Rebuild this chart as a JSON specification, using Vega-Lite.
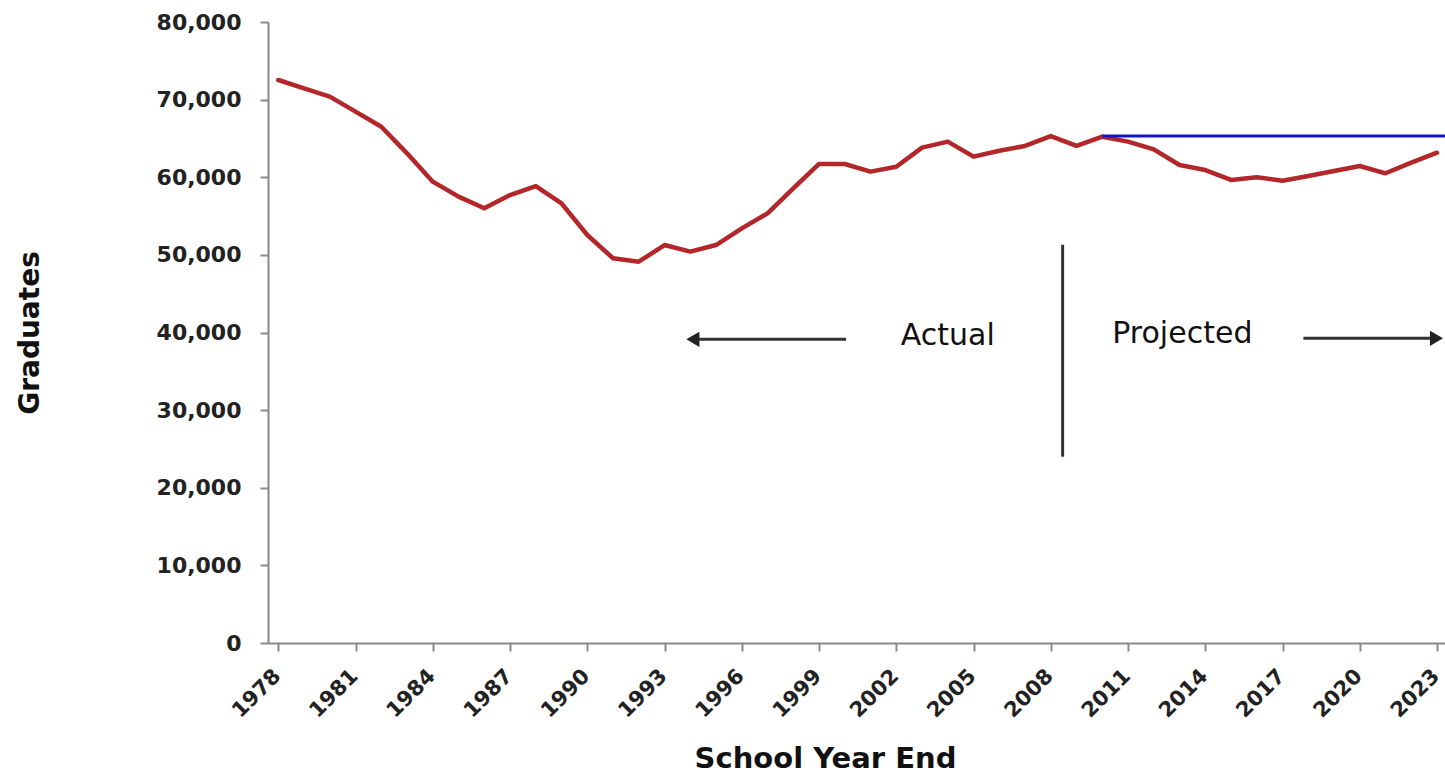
{
  "$schema": "https://vega.github.io/schema/vega-lite/v6.json",
  "width": 1177,
  "height": 621,
  "autosize": {"type": "none"},
  "padding": {"left": 268, "top": 22, "right": 0, "bottom": 131},
  "background": "white",
  "config": {
    "view": {"stroke": null},
    "font": "DejaVu Sans",
    "axis": {
      "labelFont": "DejaVu Sans",
      "titleFont": "DejaVu Sans",
      "domainColor": "#8a8a8a",
      "domainWidth": 2,
      "tickColor": "#8a8a8a",
      "tickWidth": 2,
      "tickSize": 8,
      "labelColor": "#222222",
      "titleColor": "#111111",
      "grid": false
    }
  },
  "datasets": {
    "grads": [
      {"year": 1978, "value": 72530},
      {"year": 1979, "value": 71450},
      {"year": 1980, "value": 70380},
      {"year": 1981, "value": 68450},
      {"year": 1982, "value": 66510},
      {"year": 1983, "value": 63080},
      {"year": 1984, "value": 59430},
      {"year": 1985, "value": 57500},
      {"year": 1986, "value": 56000},
      {"year": 1987, "value": 57710},
      {"year": 1988, "value": 58870},
      {"year": 1989, "value": 56640},
      {"year": 1990, "value": 52560},
      {"year": 1991, "value": 49560},
      {"year": 1992, "value": 49120},
      {"year": 1993, "value": 51270},
      {"year": 1994, "value": 50410},
      {"year": 1995, "value": 51270},
      {"year": 1996, "value": 53420},
      {"year": 1997, "value": 55350},
      {"year": 1998, "value": 58570},
      {"year": 1999, "value": 61710},
      {"year": 2000, "value": 61710},
      {"year": 2001, "value": 60720},
      {"year": 2002, "value": 61360},
      {"year": 2003, "value": 63810},
      {"year": 2004, "value": 64590},
      {"year": 2005, "value": 62650},
      {"year": 2006, "value": 63420},
      {"year": 2007, "value": 64030},
      {"year": 2008, "value": 65310},
      {"year": 2009, "value": 64030},
      {"year": 2010, "value": 65220},
      {"year": 2011, "value": 64590},
      {"year": 2012, "value": 63600},
      {"year": 2013, "value": 61580},
      {"year": 2014, "value": 60930},
      {"year": 2015, "value": 59650},
      {"year": 2016, "value": 59990},
      {"year": 2017, "value": 59560},
      {"year": 2018, "value": 60160},
      {"year": 2019, "value": 60800},
      {"year": 2020, "value": 61450},
      {"year": 2021, "value": 60510},
      {"year": 2022, "value": 61880},
      {"year": 2023, "value": 63160}
    ],
    "blueLine": [{"year": 2010, "year2": 2023.31, "value": 65300}],
    "divider": [{"year": 2008.46, "value": 24000, "value2": 51300}],
    "arrows": [
      {"year": 2000.05, "year2": 1994.3, "value": 39120},
      {"year": 2017.81, "year2": 2022.8, "value": 39250}
    ],
    "heads": [
      {"year": 1994.1, "value": 39120, "dir": "left"},
      {"year": 2022.98, "value": 39250, "dir": "right"}
    ],
    "labels": [
      {"year": 2004.0, "value": 38450, "text": "Actual"},
      {"year": 2013.11, "value": 38600, "text": "Projected"}
    ]
  },
  "layer": [
    {
      "data": {"name": "grads"},
      "mark": {"type": "line", "color": "#b3262a", "strokeWidth": 4.5, "strokeJoin": "round", "strokeCap": "round"},
      "encoding": {
        "x": {
          "field": "year", "type": "quantitative",
          "scale": {"domain": [1977.6, 2023.31], "nice": false, "zero": false},
          "axis": {
            "title": "School Year End",
            "titleFontSize": 29,
            "titleFontWeight": "bold",
            "titleX": 557,
            "titleY": 124,
            "titleAlign": "center",
            "titleBaseline": "alphabetic",
            "values": [1978, 1981, 1984, 1987, 1990, 1993, 1996, 1999, 2002, 2005, 2008, 2011, 2014, 2017, 2020, 2023],
            "labelExpr": "format(datum.value, 'd')",
            "labelAngle": -45,
            "labelFontSize": 21,
            "labelFontWeight": "bold",
            "labelPadding": 14,
            "labelOffset": -9,
            "labelOverlap": false,
            "labelBound": false,
            "labelFlush": false
          }
        },
        "y": {
          "field": "value", "type": "quantitative",
          "scale": {"domain": [0, 80000], "nice": false},
          "axis": {
            "title": "Graduates",
            "titleFontSize": 28,
            "titleFontWeight": "bold",
            "titleX": -238,
            "titleAngle": -90,
            "titleAlign": "center",
            "titleBaseline": "middle",
            "values": [0, 10000, 20000, 30000, 40000, 50000, 60000, 70000, 80000],
            "labelExpr": "format(datum.value, ',')",
            "labelFontSize": 22,
            "labelFontWeight": "bold",
            "labelPadding": 19
          }
        }
      }
    },
    {
      "data": {"name": "blueLine"},
      "mark": {"type": "rule", "color": "#1414c4", "strokeWidth": 3},
      "encoding": {
        "x": {"field": "year", "type": "quantitative"},
        "x2": {"field": "year2"},
        "y": {"field": "value", "type": "quantitative"}
      }
    },
    {
      "data": {"name": "divider"},
      "mark": {"type": "rule", "color": "#333333", "strokeWidth": 3},
      "encoding": {
        "x": {"field": "year", "type": "quantitative"},
        "y": {"field": "value", "type": "quantitative"},
        "y2": {"field": "value2"}
      }
    },
    {
      "data": {"name": "arrows"},
      "mark": {"type": "rule", "color": "#333333", "strokeWidth": 3},
      "encoding": {
        "x": {"field": "year", "type": "quantitative"},
        "x2": {"field": "year2"},
        "y": {"field": "value", "type": "quantitative"}
      }
    },
    {
      "data": {"name": "heads"},
      "mark": {"type": "point", "filled": true, "color": "#222222", "opacity": 1, "size": 230},
      "encoding": {
        "x": {"field": "year", "type": "quantitative"},
        "y": {"field": "value", "type": "quantitative"},
        "shape": {
          "field": "dir", "type": "nominal",
          "scale": {"domain": ["left", "right"], "range": ["triangle-left", "triangle-right"]},
          "legend": null
        }
      }
    },
    {
      "data": {"name": "labels"},
      "mark": {"type": "text", "font": "DejaVu Sans", "fontSize": 30, "color": "#111111", "align": "center", "baseline": "alphabetic"},
      "encoding": {
        "x": {"field": "year", "type": "quantitative"},
        "y": {"field": "value", "type": "quantitative"},
        "text": {"field": "text"}
      }
    }
  ]
}
